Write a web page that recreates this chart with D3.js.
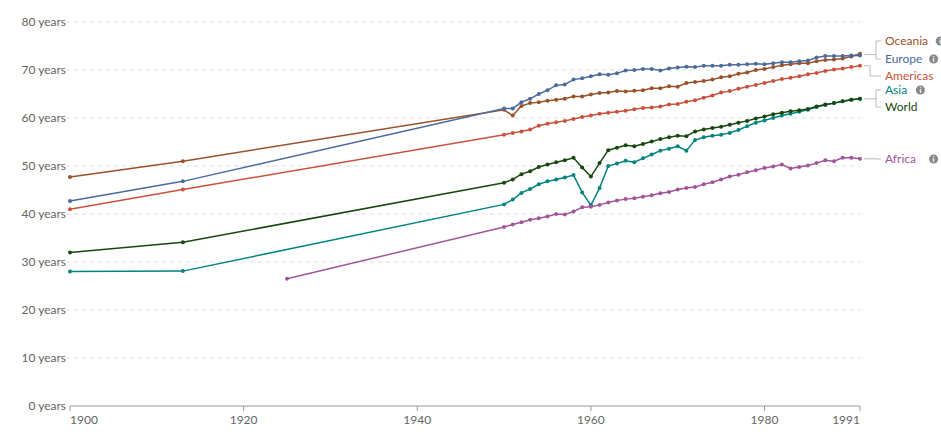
<!DOCTYPE html>
<html><head><meta charset="utf-8">
<script src="https://cdn.jsdelivr.net/npm/d3@7"></script>
<style>body{margin:0;background:#fff;font-family:Lato,sans-serif}</style>
</head><body><svg id="c" width="941" height="447"></svg>
<script>
// years and values per region
var annual = d3.range(1950, 1992);
var yearsEarly = [1900, 1913];
var oceania = [47.7, 51.0, 61.7, 60.5, 62.5, 63.1, 63.3, 63.6, 63.8, 64.0, 64.5, 64.5, 64.9,
  65.2, 65.3, 65.6, 65.5, 65.7, 65.8, 66.2, 66.2, 66.6, 66.5,
  67.3, 67.5, 67.7, 68.0, 68.5, 68.7, 69.2, 69.5, 70.0, 70.2,
  70.6, 71.0, 71.2, 71.4, 71.4, 71.8, 72.1, 72.2, 72.4, 72.8, 73.4];
var europe = [42.7, 46.8, 62.0, 62.0, 63.3, 64.0, 65.0, 65.8, 66.8, 67.0, 68.0, 68.3, 68.7,
  69.1, 69.0, 69.3, 69.9, 70.0, 70.2, 70.2, 69.9, 70.3, 70.5,
  70.7, 70.6, 70.9, 70.9, 70.9, 71.1, 71.1, 71.2, 71.3, 71.2,
  71.4, 71.6, 71.6, 71.8, 72.0, 72.6, 72.9, 72.9, 72.9, 73.0, 73.0];
var americas = [41.0, 45.1, 56.5, 56.9, 57.2, 57.6, 58.4, 58.8, 59.1, 59.4, 59.8, 60.2, 60.5,
  60.9, 61.1, 61.3, 61.5, 61.8, 62.1, 62.2, 62.4, 62.8, 62.9,
  63.4, 63.7, 64.2, 64.7, 65.3, 65.6, 66.1, 66.5, 66.9, 67.3,
  67.7, 68.1, 68.4, 68.7, 69.1, 69.4, 69.8, 70.1, 70.3, 70.6, 70.9];
var world = [32.0, 34.1, 46.5, 47.2, 48.3, 48.9, 49.8, 50.3, 50.8, 51.2, 51.7, 49.7, 47.8,
  50.6, 53.3, 53.8, 54.3, 54.1, 54.6, 55.1, 55.6, 56.0, 56.3,
  56.2, 57.2, 57.6, 57.9, 58.2, 58.6, 59.0, 59.4, 59.9, 60.3,
  60.8, 61.1, 61.4, 61.6, 61.9, 62.4, 62.8, 63.1, 63.5, 63.8, 64.0];
var asia = [28.0, 28.1, 42.0, 43.0, 44.4, 45.2, 46.2, 46.8, 47.2, 47.6, 48.1, 44.5, 41.8,
  45.4, 50.0, 50.5, 51.1, 50.8, 51.6, 52.4, 53.2, 53.6, 54.1,
  53.2, 55.4, 56.0, 56.3, 56.5, 56.9, 57.5, 58.3, 59.0, 59.5,
  60.0, 60.5, 60.9, 61.3, 61.7, 62.3, 62.7, 63.1, 63.5, 63.8, 64.0];
var africaYears = [1925].concat(annual);
var africa = [26.5, 37.3, 37.8, 38.3, 38.8, 39.1, 39.5, 40.0, 39.9, 40.5, 41.4, 41.5,
  41.9, 42.4, 42.8, 43.1, 43.3, 43.6, 43.9, 44.3, 44.6, 45.1,
  45.4, 45.6, 46.2, 46.6, 47.2, 47.8, 48.2, 48.7, 49.1, 49.6,
  49.9, 50.3, 49.5, 49.8, 50.1, 50.6, 51.2, 51.0, 51.7, 51.7, 51.5];
var yTicks = [0, 10, 20, 30, 40, 50, 60, 70, 80];
var xTicks = [1900, 1920, 1940, 1960, 1980, 1991];

var series = [
  {name: "Oceania", years: yearsEarly.concat(annual), vals: oceania, color: "#9a5129", ly: 41, info: true},
  {name: "Europe", years: yearsEarly.concat(annual), vals: europe, color: "#4c6a9c", ly: 59, info: true},
  {name: "Americas", years: yearsEarly.concat(annual), vals: americas, color: "#c9523d", ly: 76},
  {name: "Asia", years: yearsEarly.concat(annual), vals: asia, color: "#00847e", ly: 90, info: true},
  {name: "World", years: yearsEarly.concat(annual), vals: world, color: "#18470f", ly: 107},
  {name: "Africa", years: africaYears, vals: africa, color: "#a2559c", ly: 159, info: true}
];

var svg = d3.select("#c");
var x = d3.scaleLinear().domain([1900, 1991]).range([70, 860]);
var y = d3.scaleLinear().domain([0, 80]).range([406, 22]);

// grid
svg.selectAll(".g").data(yTicks.filter(d => d > 0)).enter().append("line")
  .attr("x1", 66).attr("x2", 860).attr("y1", d => y(d)).attr("y2", d => y(d))
  .attr("stroke", "#ddd").attr("stroke-dasharray", "4,4");
svg.selectAll(".yl").data(yTicks).enter().append("text")
  .attr("x", 66).attr("y", d => y(d) + 4).attr("text-anchor", "end")
  .attr("font-size", 12).attr("fill", "#666").text(d => d + " years");
svg.append("line").attr("x1", 70).attr("x2", 860).attr("y1", 406).attr("y2", 406).attr("stroke", "#999");
svg.selectAll(".xt").data(xTicks).enter().append("line")
  .attr("x1", d => x(d)).attr("x2", d => x(d)).attr("y1", 406).attr("y2", 411).attr("stroke", "#999");
svg.selectAll(".xl").data(xTicks).enter().append("text")
  .attr("x", d => d == 1900 ? x(d) : d == 1991 ? x(d) : x(d)).attr("y", 424)
  .attr("text-anchor", d => d == 1900 ? "start" : d == 1991 ? "end" : "middle")
  .attr("font-size", 12).attr("fill", "#666").text(d => d);

var line = d3.line().x(d => x(d[0])).y(d => y(d[1]));
series.forEach(function(s) {
  var pts = s.years.map((yr, i) => [yr, s.vals[i]]);
  svg.append("path").attr("d", line(pts)).attr("fill", "none")
    .attr("stroke", s.color).attr("stroke-width", 1.5);
  svg.selectAll(null).data(pts).enter().append("circle")
    .attr("cx", d => x(d[0])).attr("cy", d => y(d[1])).attr("r", 2).attr("fill", s.color);
  var endY = y(s.vals[s.vals.length - 1]);
  // legend label
  svg.append("text").attr("x", 885).attr("y", s.ly + 4).attr("font-size", 12)
    .attr("fill", s.color).text(s.name);
  if (s.info) {
    var w = s.name.length * 6.3 + 893;
    var icon = svg.append("g").attr("transform", "translate(" + (885 + s.name.length * 6.6 + 9) + "," + s.ly + ")");
    icon.append("circle").attr("r", 4.5).attr("fill", "#888");
    icon.append("text").attr("y", 3).attr("text-anchor", "middle").attr("font-size", 8)
      .attr("font-weight", "bold").attr("fill", "#fff").text("i");
  }
  s.endY = endY;
});
// connectors
var conn = [
  {ys: [41, 59], from: 73.2, mid: 876},
  {ys: [76], from: 70.9, mid: 870},
  {ys: [90, 107], from: 64, mid: 876},
  {ys: [159], from: 51.5, mid: 876}
];
conn.forEach(function(c) {
  var g = svg.append("g").attr("stroke", "#bbb").attr("fill", "none");
  var ey = y(c.from);
  if (c.ys.length == 2) {
    g.append("path").attr("d", "M864," + ey + "H" + c.mid + "M" + c.mid + "," + c.ys[0] + "V" + c.ys[1]
      + "M" + c.mid + "," + c.ys[0] + "H881M" + c.mid + "," + c.ys[1] + "H881");
  } else {
    g.append("path").attr("d", "M864," + ey + "H" + c.mid + "V" + c.ys[0] + "H881");
  }
});
</script></body></html>
